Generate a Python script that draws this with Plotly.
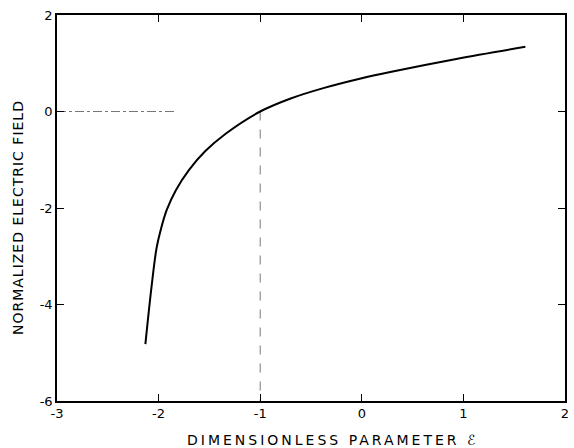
import plotly.graph_objects as go

# Normalized electric field versus the dimensionless parameter
eps = [-2.13, -2.07, -2.02, -1.98, -1.92, -1.83, -1.70, -1.54, -1.34, -1.0,
       -0.70, -0.37, 0.0, 0.28, 0.93, 1.61]
field = [-4.82, -3.64, -2.83, -2.46, -2.04, -1.63, -1.21, -0.82, -0.46, 0.0,
         0.27, 0.49, 0.69, 0.82, 1.09, 1.34]

# Guide lines marking the zero crossing
guide_h_x = [-3.0, -1.83]
guide_h_y = [0.0, 0.0]
guide_v_x = [-1.0, -1.0]
guide_v_y = [0.0, -6.0]

x_ticks = [-3, -2, -1, 0, 1, 2]
x_ticktext = ["-3", "-2", "-1", "0", "1", "2"]
y_ticks = [2, 0, -2, -4, -6]
y_ticktext = ["2", "0", "-2", "-4", "-6"]

x_title = "DIMENSIONLESS PARAMETER ℰ"
y_title = "NORMALIZED ELECTRIC FIELD"

fig = go.Figure()
fig.add_trace(go.Scatter(x=guide_h_x, y=guide_h_y, mode="lines",
                         line=dict(color="#777777", width=1, dash="dashdot"),
                         hoverinfo="skip"))
fig.add_trace(go.Scatter(x=guide_v_x, y=guide_v_y, mode="lines",
                         line=dict(color="#777777", width=1, dash="dash"),
                         hoverinfo="skip"))
fig.add_trace(go.Scatter(x=eps, y=field, mode="lines",
                         line=dict(color="black", width=2, shape="spline", smoothing=1.0)))

axis_common = dict(showgrid=False, zeroline=False, showline=True, linecolor="black",
                   linewidth=1.5, mirror="allticks", ticks="inside", ticklen=7,
                   tickcolor="black", tickwidth=1,
                   tickfont=dict(family="DejaVu Sans", size=13, color="black"))

fig.update_xaxes(range=[-3, 2], tickvals=x_ticks, ticktext=x_ticktext, **axis_common)
fig.update_yaxes(range=[-6, 2], tickvals=y_ticks, ticktext=y_ticktext, **axis_common)

title_font = dict(family="DejaVu Sans", size=14, color="black")
fig.add_annotation(text=f'<span style="letter-spacing:3px">{x_title}</span>',
                   xref="paper", yref="paper", x=0.543, y=-0.10,
                   xanchor="center", yanchor="middle", showarrow=False, font=title_font)
fig.add_annotation(text=f'<span style="letter-spacing:1px">{y_title}</span>',
                   xref="paper", yref="paper", x=-0.078, y=0.475, textangle=-90,
                   xanchor="center", yanchor="middle", showarrow=False, font=title_font)

fig.update_layout(width=574, height=448, showlegend=False,
                  plot_bgcolor="white", paper_bgcolor="white",
                  margin=dict(l=57, r=5, t=15, b=47))

fig.write_html("out.html")
